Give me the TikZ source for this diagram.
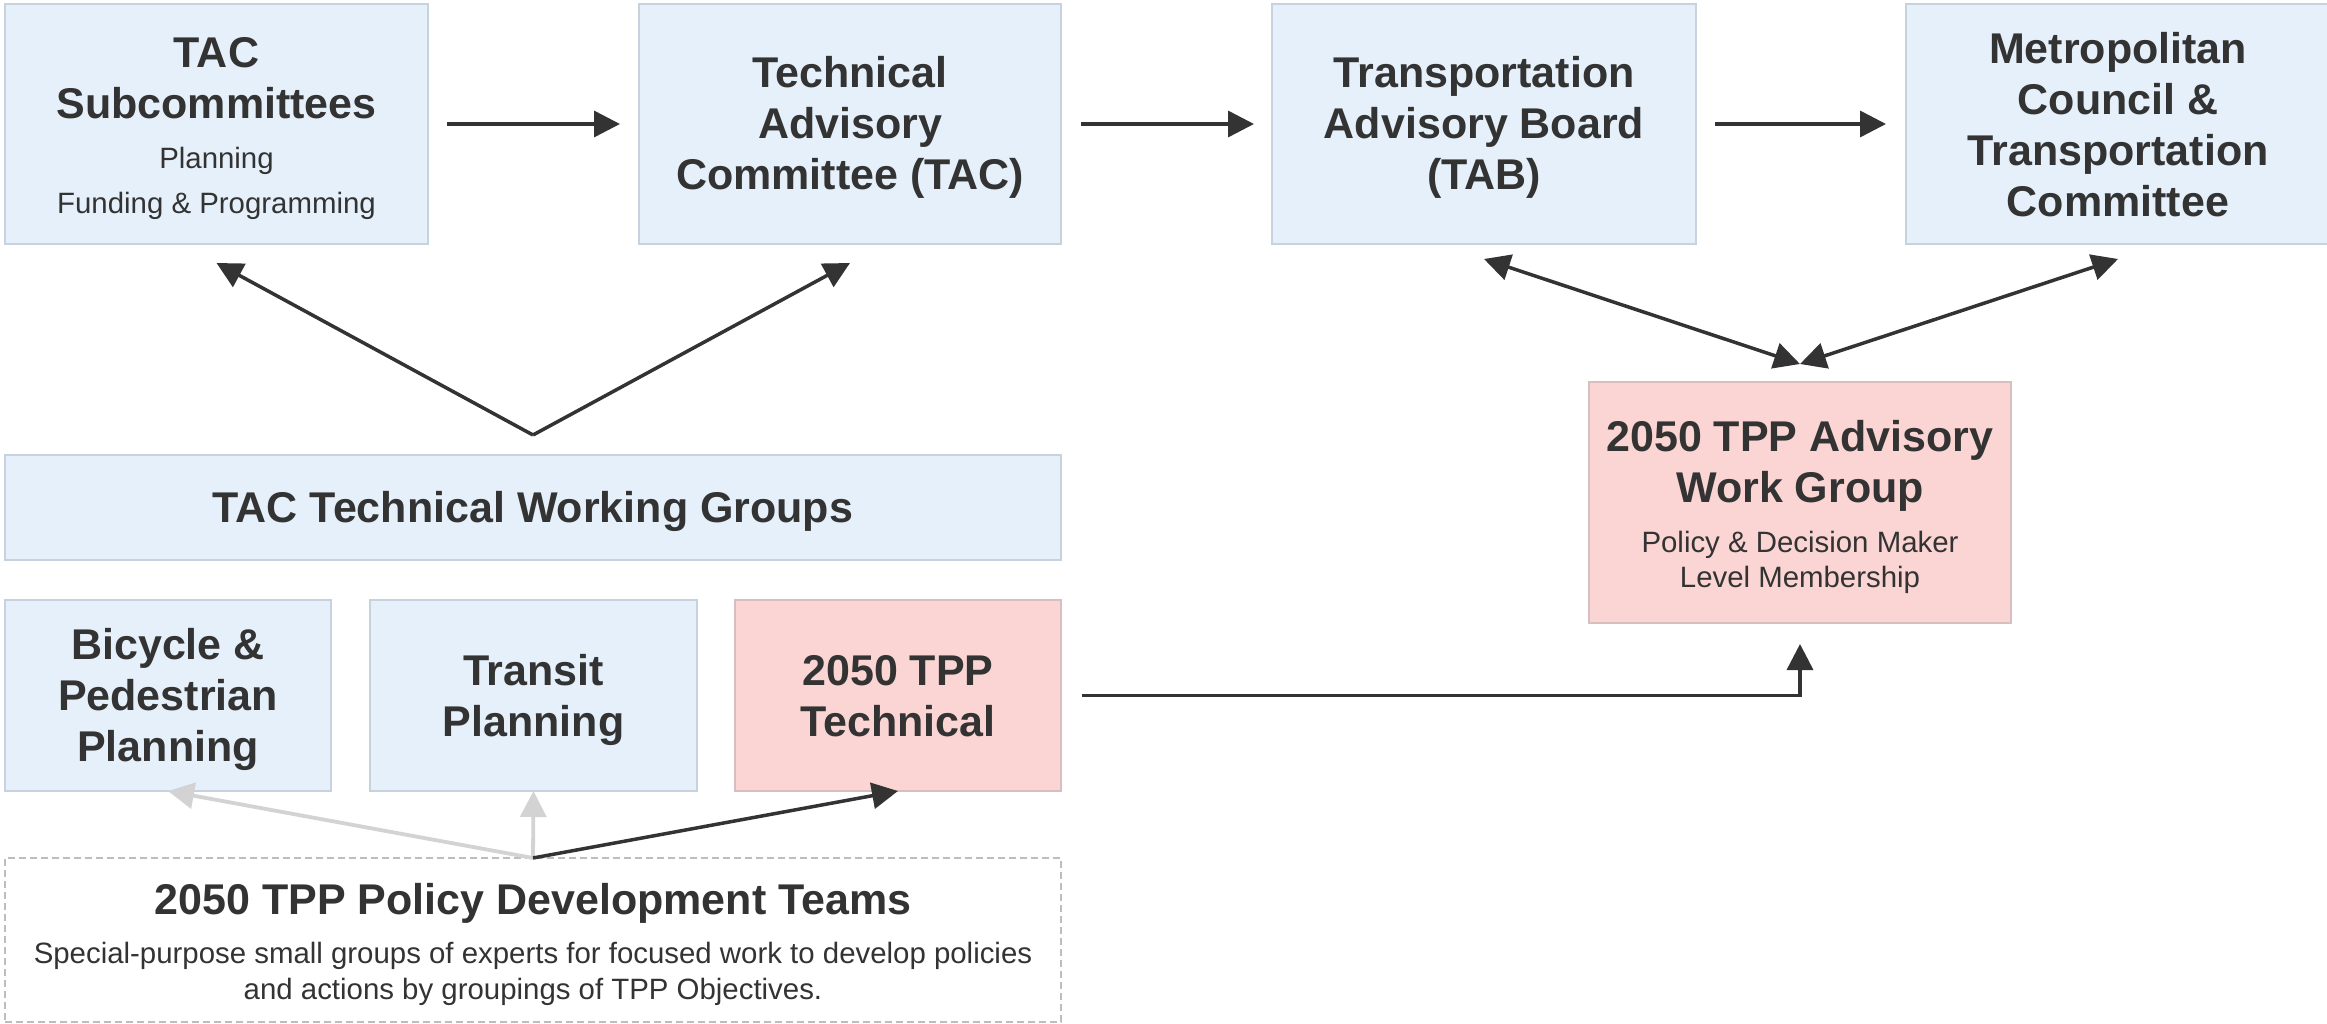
\documentclass[tikz,border=0pt]{standalone}
\usepackage{fontspec}
\setmainfont{Liberation Sans}
\usetikzlibrary{arrows.meta,calc}
\definecolor{txt}{HTML}{333333}
\definecolor{bluefill}{HTML}{E5F0FA}
\definecolor{blueline}{HTML}{C6D3DE}
\definecolor{pinkfill}{HTML}{FAD5D3}
\definecolor{pinkline}{HTML}{D8BEBE}
\definecolor{dashline}{HTML}{BDBDBD}
\definecolor{lightarrow}{HTML}{D3D3D3}
% a box of fixed size whose lines are placed by their baselines
\newcommand\boxtext[3]{\vbox to #2{\offinterlineskip\hsize=#1\relax #3\vss}}
\newcommand\bline[2]{\kern#1\hbox to\hsize{\hss\smash{#2}\hss}}
\newcommand\bt{\fontsize{43}{51}\selectfont\bfseries}
\newcommand\rt{\fontsize{29.4}{35}\selectfont\mdseries}
\begin{document}
\begin{tikzpicture}[x=1pt,y=-1pt,
  box/.style={inner sep=0pt, outer sep=0pt, text=txt, line width=1.2pt},
  bluebox/.style={box, fill=bluefill, draw=blueline},
  pinkbox/.style={box, fill=pinkfill, draw=pinkline},
  policybox/.style={box, fill=white, draw=dashline, dash pattern=on 7pt off 4pt},
  arr/.style={draw=txt, line width=3.5pt, -{Triangle[length=26pt,width=26pt]}},
  darr/.style={draw=txt, line width=3.5pt, {Triangle[length=26pt,width=26pt]}-{Triangle[length=26pt,width=26pt]}},
  larr/.style={draw=lightarrow, line width=3.8pt, -{Triangle[length=26pt,width=26pt]}}]
\useasboundingbox (0,0) rectangle (2327,1024);

% top row
\node[bluebox] (tacsub) at (216.5,124) {\boxtext{423pt}{240pt}{%
  \bline{63.7pt}{\bt TAC}\bline{51.3pt}{\bt Subcommittees}%
  \bline{49.3pt}{\rt Planning}\bline{45pt}{\rt Funding \& Programming}}};
\node[bluebox] (tac) at (850,124) {\boxtext{422pt}{240pt}{%
  \bline{84pt}{\bt Technical}\bline{51pt}{\bt Advisory}\bline{51pt}{\bt Committee (TAC)}}};
\node[bluebox] (tab) at (1484,124) {\boxtext{424pt}{240pt}{%
  \bline{84pt}{\bt Transportation}\bline{51pt}{\bt Advisory Board}\bline{51pt}{\bt (TAB)}}};
\node[bluebox] (met) at (2118,124) {\boxtext{424pt}{240pt}{%
  \bline{59.3pt}{\bt Metropolitan}\bline{51pt}{\bt Council \&}%
  \bline{51pt}{\bt Transportation}\bline{51pt}{\bt Committee}}};

% working groups
\node[bluebox] (twg) at (533,507.5) {\boxtext{1056pt}{105pt}{%
  \bline{67.7pt}{\bt TAC Technical Working Groups}}};
\node[bluebox] (bike) at (168,695.5) {\boxtext{326pt}{191pt}{%
  \bline{59.5pt}{\bt Bicycle \&}\bline{51pt}{\bt Pedestrian}\bline{51pt}{\bt Planning}}};
\node[bluebox] (transit) at (533.5,695.5) {\boxtext{327pt}{191pt}{%
  \bline{85pt}{\bt Transit}\bline{51pt}{\bt Planning}}};
\node[pinkbox] (tech) at (898,695.5) {\boxtext{326pt}{191pt}{%
  \bline{85pt}{\bt 2050 TPP}\bline{51pt}{\bt Technical}}};

% advisory work group
\node[pinkbox] (adv) at (1800,502.5) {\boxtext{422pt}{241pt}{%
  \bline{69.7pt}{\bt 2050 TPP Advisory}\bline{51pt}{\bt Work Group}%
  \bline{50pt}{\rt Policy \& Decision Maker}\bline{35pt}{\rt Level Membership}}};

% policy development teams
\node[policybox] (policy) at (533,940) {\boxtext{1056pt}{164pt}{%
  \bline{56pt}{\bt 2050 TPP Policy Development Teams}%
  \bline{49pt}{\rt Special-purpose small groups of experts for focused work to develop policies}%
  \bline{36pt}{\rt and actions by groupings of TPP Objectives.}}};

% connectors
\draw[arr] ([xshift=19pt]tacsub.east) -- ([xshift=-19pt]tac.west);
\draw[arr] ([xshift=20pt]tac.east) -- ([xshift=-18pt]tab.west);
\draw[arr] ([xshift=19pt]tab.east) -- ([xshift=-20pt]met.west);

\coordinate (apex) at ([yshift=20pt]twg.north);
\draw[arr] (apex) -- ([yshift=-19pt]tacsub.south);
\draw[arr] (apex) -- ([yshift=-19pt]tac.south);

\coordinate (advtop) at ([yshift=18pt]adv.north);
\draw[darr] ([yshift=-15pt]tab.south) -- (advtop);
\draw[darr] ([yshift=-15pt]met.south) -- (advtop);

\draw[arr] ([xshift=21pt]tech.east) -| ([yshift=-21pt]adv.south);

\draw[larr] (policy.north) -- (bike.south);
\draw[larr] (policy.north) -- (transit.south);
\draw[arr] (policy.north) -- (tech.south);
\end{tikzpicture}
\end{document}
